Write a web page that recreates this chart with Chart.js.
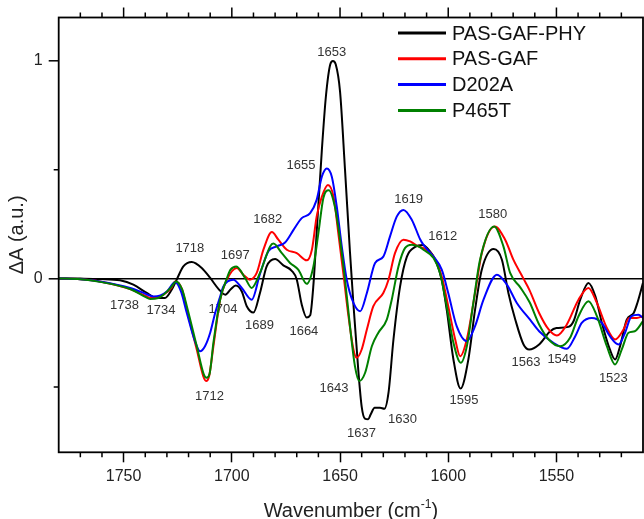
<!DOCTYPE html>
<html>
<head>
<meta charset="utf-8">
<script src="https://cdn.jsdelivr.net/npm/chart.js@4/dist/chart.umd.min.js"></script>
<style>
  html, body { margin: 0; padding: 0; background: #fff; }
</style>
</head>
<body>
<canvas id="ir-chart" width="644" height="519"></canvas>
<script>
const FONT = 'Arial, "Liberation Sans", sans-serif'

const seriesNames = ['PAS-GAF-PHY', 'PAS-GAF', 'D202A', 'P465T']
const seriesColors = ['#000000', '#ff0000', '#0000ff', '#008000']

// PAS-GAF-PHY
const blackWn = [1780, 1770, 1761, 1751.7, 1745.5, 1739.3, 1734.7, 1730.9, 1727.8, 1725.5, 1722.4, 1718.5, 1713.9, 1710, 1706.2, 1703, 1700.5, 1698.2, 1695.4, 1693.1, 1690, 1687, 1683.9, 1680, 1676.2, 1672.3, 1670, 1667.7, 1665.4, 1663.8, 1662.3, 1660.8, 1658.4, 1656.5, 1654.5, 1653.3, 1652, 1650, 1647.7, 1645.4, 1643.8, 1641.5, 1640, 1638.5, 1637, 1635.8, 1634, 1631.5, 1629.5, 1627.6, 1625.3, 1622.3, 1619.1, 1615.3, 1611.8, 1608.5, 1606, 1603, 1600.7, 1597.6, 1594.3, 1590.7, 1587.6, 1584.5, 1579, 1575.2, 1572.2, 1569, 1565.2, 1562.6, 1558, 1552.9, 1550, 1544.5, 1542.1, 1539, 1535.2, 1532, 1529, 1525.3, 1522.9, 1520.6, 1517.5, 1514.3, 1512.6, 1510]
const blackDA = [0, -0.001, -0.003, -0.009, -0.029, -0.067, -0.09, -0.09, -0.052, -0.006, 0.055, 0.075, 0.048, 0.002, -0.048, -0.075, -0.05, -0.033, -0.06, -0.128, -0.157, -0.067, 0.055, 0.089, 0.06, 0.035, -0.005, -0.12, -0.18, -0.17, -0.03, 0.21, 0.59, 0.84, 0.985, 1.0, 0.985, 0.86, 0.5, 0.12, -0.12, -0.43, -0.59, -0.645, -0.648, -0.625, -0.595, -0.595, -0.6, -0.526, -0.28, -0.04, 0.1, 0.145, 0.153, 0.125, 0.086, -0.006, -0.144, -0.373, -0.507, -0.373, -0.144, 0.04, 0.135, 0.086, -0.067, -0.19, -0.304, -0.327, -0.304, -0.243, -0.228, -0.223, -0.197, -0.098, -0.021, -0.083, -0.205, -0.327, -0.373, -0.312, -0.19, -0.159, -0.113, -0.02]

// PAS-GAF
const redWn = [1780, 1770, 1761, 1747, 1740, 1737.8, 1734, 1731.6, 1728, 1726.2, 1723, 1720.8, 1716.2, 1713.2, 1711.9, 1710.5, 1708.5, 1705.4, 1702.3, 1697.7, 1694.7, 1691.6, 1688.5, 1685.4, 1681.5, 1678.5, 1674.6, 1670, 1665.4, 1663, 1660.8, 1658.4, 1655.6, 1653, 1650.8, 1648.5, 1646.1, 1643.8, 1642.3, 1640, 1637.6, 1634.6, 1630, 1627.6, 1624.6, 1620.7, 1617.6, 1613.8, 1611.5, 1606.8, 1603, 1600, 1596.8, 1594.5, 1591.4, 1587.6, 1584.5, 1578.5, 1573.7, 1569.9, 1565.3, 1562.4, 1558, 1553.6, 1549.8, 1545.2, 1539.8, 1535.2, 1531.3, 1526.7, 1522.9, 1519, 1516.4, 1512.8, 1510]
const redDA = [0, -0.004, -0.014, -0.049, -0.08, -0.09, -0.085, -0.075, -0.045, -0.014, -0.05, -0.144, -0.327, -0.45, -0.472, -0.45, -0.312, -0.098, -0.006, 0.048, 0.017, -0.006, 0.025, 0.132, 0.213, 0.178, 0.132, 0.116, 0.083, 0.132, 0.284, 0.376, 0.43, 0.376, 0.208, 0.025, -0.174, -0.327, -0.365, -0.327, -0.235, -0.128, -0.067, -0.006, 0.116, 0.178, 0.17, 0.147, 0.139, 0.1, 0.009, -0.128, -0.28, -0.358, -0.28, -0.067, 0.116, 0.239, 0.178, 0.086, 0, -0.055, -0.159, -0.235, -0.263, -0.212, -0.098, -0.044, -0.113, -0.228, -0.281, -0.235, -0.182, -0.182, -0.174]

// D202A
const blueWn = [1780, 1770, 1761, 1747, 1740, 1736.3, 1733, 1730, 1726.2, 1723.5, 1720.8, 1717, 1714.7, 1712.4, 1710, 1707.7, 1705.4, 1703.9, 1699.3, 1695.4, 1690.8, 1687, 1683.1, 1679.2, 1675.4, 1671.5, 1667.7, 1663.8, 1660.8, 1658.4, 1656.1, 1653.8, 1651.5, 1649.2, 1646.9, 1643.8, 1640.7, 1637.6, 1633.8, 1630, 1626.9, 1623.8, 1620.7, 1616.8, 1613, 1611.5, 1606.8, 1603, 1600, 1596.1, 1591.4, 1587.6, 1583.7, 1577.5, 1572.9, 1568.3, 1562.2, 1558, 1551.4, 1545.2, 1541.3, 1538.3, 1533.6, 1529, 1525.3, 1521.3, 1518.3, 1515.3, 1512.1, 1510]
const blueDA = [0, -0.004, -0.014, -0.044, -0.07, -0.083, -0.078, -0.06, -0.018, -0.06, -0.159, -0.29, -0.335, -0.312, -0.25, -0.159, -0.083, -0.037, -0.006, -0.044, -0.098, 0.02, 0.125, 0.147, 0.165, 0.223, 0.277, 0.3, 0.361, 0.468, 0.506, 0.468, 0.33, 0.147, -0.006, -0.113, -0.151, -0.067, 0.071, 0.1, 0.193, 0.284, 0.315, 0.269, 0.18, 0.155, 0.1, 0.04, -0.067, -0.22, -0.289, -0.22, -0.098, 0.017, -0.029, -0.113, -0.19, -0.243, -0.296, -0.324, -0.266, -0.205, -0.182, -0.205, -0.266, -0.304, -0.25, -0.174, -0.167, -0.182]

// P465T
const greenWn = [1780, 1770, 1761, 1747, 1740, 1737.8, 1734, 1731.6, 1728, 1725.8, 1723, 1720.8, 1716.2, 1713, 1711.7, 1710.3, 1708.5, 1705.4, 1702.3, 1700.6, 1697.9, 1693.9, 1690.8, 1687, 1682.3, 1680.8, 1676.9, 1673.1, 1669.3, 1665.4, 1662.3, 1660, 1657.7, 1655.2, 1652.4, 1650, 1647.7, 1645.4, 1643.1, 1641.1, 1638.4, 1635.3, 1632.3, 1628.4, 1626.1, 1623, 1620, 1616.8, 1613.8, 1611.5, 1606.8, 1603.8, 1600.7, 1597.6, 1594.2, 1591.4, 1588.4, 1585.3, 1578.8, 1574.5, 1571.4, 1566.8, 1562.4, 1558, 1553.6, 1548.3, 1543.7, 1539.8, 1535.2, 1531.3, 1526.7, 1522.9, 1519.8, 1516.7, 1513.8, 1510]
const greenDA = [0, -0.004, -0.016, -0.049, -0.085, -0.095, -0.09, -0.075, -0.04, -0.014, -0.05, -0.128, -0.312, -0.44, -0.457, -0.44, -0.296, -0.098, 0, 0.04, 0.055, 0.002, -0.044, 0.025, 0.147, 0.16, 0.116, 0.071, 0.04, -0.025, 0.055, 0.208, 0.37, 0.405, 0.33, 0.178, -0.006, -0.22, -0.404, -0.472, -0.434, -0.312, -0.25, -0.19, -0.098, 0.055, 0.139, 0.155, 0.147, 0.132, 0.094, 0.025, -0.128, -0.296, -0.388, -0.312, -0.113, 0.086, 0.239, 0.147, 0.025, -0.04, -0.11, -0.212, -0.281, -0.312, -0.273, -0.174, -0.105, -0.174, -0.312, -0.396, -0.327, -0.25, -0.243, -0.197]

// peak labels, placed in data coordinates
const peakText = ['1718', '1697', '1682', '1655', '1653', '1619', '1612', '1580', '1738', '1734', '1704', '1689', '1664', '1712', '1643', '1637', '1630', '1595', '1563', '1549', '1523']
const peakWn = [1719.4, 1698.4, 1683.4, 1668, 1653.8, 1618.3, 1602.5, 1579.4, 1749.6, 1732.7, 1704.1, 1687.2, 1666.7, 1710.3, 1652.8, 1640.1, 1621.1, 1592.7, 1564.1, 1547.5, 1523.7]
const peakDA = [0.139, 0.104, 0.272, 0.518, 1.039, 0.361, 0.193, 0.292, -0.125, -0.148, -0.144, -0.217, -0.246, -0.544, -0.507, -0.712, -0.651, -0.56, -0.388, -0.373, -0.46]

const xMajor = [1750, 1700, 1650, 1600, 1550]
const xMinor = [1770, 1760, 1740, 1730, 1720, 1710, 1690, 1680, 1670, 1660, 1640, 1630, 1620, 1610, 1590, 1580, 1570, 1560, 1540, 1530, 1520]
const yMajor = [0, 1]
const yMinor = [-0.5, 0.5]

const toPoints = (xs, ys) => xs.map((x, i) => ({ x: x, y: ys[i] }))
const allWn = [blackWn, redWn, blueWn, greenWn]
const allDA = [blackDA, redDA, blueDA, greenDA]

const datasets = seriesNames.map((name, i) => ({
  label: name,
  data: toPoints(allWn[i], allDA[i]),
  borderColor: seriesColors[i],
  backgroundColor: seriesColors[i],
  borderWidth: 2,
  pointRadius: 0,
  cubicInterpolationMode: 'monotone',
  order: 3 - i,
}))

// peak numbers drawn under the curves, frame + minor ticks + legend + x title on top
const decorations = {
  id: 'decorations',
  beforeDatasetsDraw(chart) {
    const { ctx, scales: { x, y } } = chart
    ctx.save()
    ctx.font = '13px ' + FONT
    ctx.fillStyle = '#333'
    ctx.textAlign = 'center'
    ctx.textBaseline = 'middle'
    peakText.forEach((t, i) => {
      ctx.fillText(t, x.getPixelForValue(peakWn[i]), y.getPixelForValue(peakDA[i]))
    })
    ctx.restore()
  },
  afterDraw(chart) {
    const { ctx, chartArea: a, scales: { x, y } } = chart
    ctx.save()
    ctx.strokeStyle = '#000'
    ctx.lineWidth = 1.8
    ctx.strokeRect(a.left, a.top, a.right - a.left, a.bottom - a.top)

    ctx.lineWidth = 1.5
    ctx.beginPath()
    xMinor.forEach(v => {
      const px = x.getPixelForValue(v)
      ctx.moveTo(px, a.bottom); ctx.lineTo(px, a.bottom + 5)
      ctx.moveTo(px, a.top); ctx.lineTo(px, a.top - 5)
    })
    xMajor.forEach(v => {
      const px = x.getPixelForValue(v)
      ctx.moveTo(px, a.top); ctx.lineTo(px, a.top - 10)
    })
    yMinor.forEach(v => {
      const py = y.getPixelForValue(v)
      ctx.moveTo(a.left, py); ctx.lineTo(a.left - 5, py)
    })
    ctx.stroke()

    // legend
    ctx.font = '20px ' + FONT
    ctx.textAlign = 'left'
    ctx.textBaseline = 'middle'
    chart.data.datasets.forEach((ds, i) => {
      const ly = 33 + i * 25.8
      ctx.strokeStyle = ds.borderColor
      ctx.lineWidth = 3
      ctx.beginPath()
      ctx.moveTo(398, ly); ctx.lineTo(446, ly)
      ctx.stroke()
      ctx.fillStyle = '#111'
      ctx.fillText(ds.label, 452, ly + 1)
    })

    // x axis title with superscript
    const main = 'Wavenumber (cm'
    const sup = '-1'
    const close = ')'
    ctx.font = '20px ' + FONT
    const w1 = ctx.measureText(main).width
    const w3 = ctx.measureText(close).width
    ctx.font = '12px ' + FONT
    const w2 = ctx.measureText(sup).width
    const cx = (a.left + a.right) / 2
    let sx = cx - (w1 + w2 + w3) / 2
    const base = 517
    ctx.fillStyle = '#222'
    ctx.textBaseline = 'alphabetic'
    ctx.font = '20px ' + FONT
    ctx.fillText(main, sx, base)
    ctx.font = '12px ' + FONT
    ctx.fillText(sup, sx + w1, base - 9)
    ctx.font = '20px ' + FONT
    ctx.fillText(close, sx + w1 + w2, base)
    ctx.restore()
  }
}

const ctx = document.getElementById('ir-chart')

const irChart = new Chart(ctx, {
  type: 'line',
  data: { datasets: datasets },
  options: {
    responsive: false,
    animation: false,
    layout: { padding: { left: 0, right: 1, top: 17.5, bottom: 0 } },
    plugins: {
      legend: { display: false },
      tooltip: { enabled: false },
      title: { display: false },
    },
    scales: {
      x: {
        type: 'linear',
        reverse: true,
        min: 1510,
        max: 1780,
        afterBuildTicks: scale => { scale.ticks = xMajor.map(v => ({ value: v })) },
        afterFit: scale => { scale.height = 66.7 },
        ticks: {
          font: { family: FONT, size: 16 },
          color: '#222',
          padding: 5,
          maxRotation: 0,
          autoSkip: false,
          callback: v => String(v),
        },
        grid: {
          drawOnChartArea: false,
          tickLength: 10,
          tickColor: '#000',
          tickWidth: 1.5,
        },
        border: { display: false },
        title: { display: false },
      },
      y: {
        type: 'linear',
        min: -0.8,
        max: 1.2,
        afterBuildTicks: scale => { scale.ticks = yMajor.map(v => ({ value: v })) },
        afterFit: scale => { scale.width = 58.7 },
        ticks: {
          font: { family: FONT, size: 16 },
          color: '#222',
          padding: 6,
          callback: v => String(v),
        },
        grid: {
          color: c => (c.tick && c.tick.value === 0 ? '#000' : 'rgba(0,0,0,0)'),
          lineWidth: 1.6,
          tickLength: 10,
          tickColor: '#000',
          tickWidth: 1.5,
        },
        border: { display: false },
        title: {
          display: true,
          text: 'ΔA (a.u.)',
          font: { family: FONT, size: 20 },
          color: '#222',
          padding: { top: 5.5, bottom: 0 },
        },
      },
    },
  },
  plugins: [decorations],
})
</script>
</body>
</html>
